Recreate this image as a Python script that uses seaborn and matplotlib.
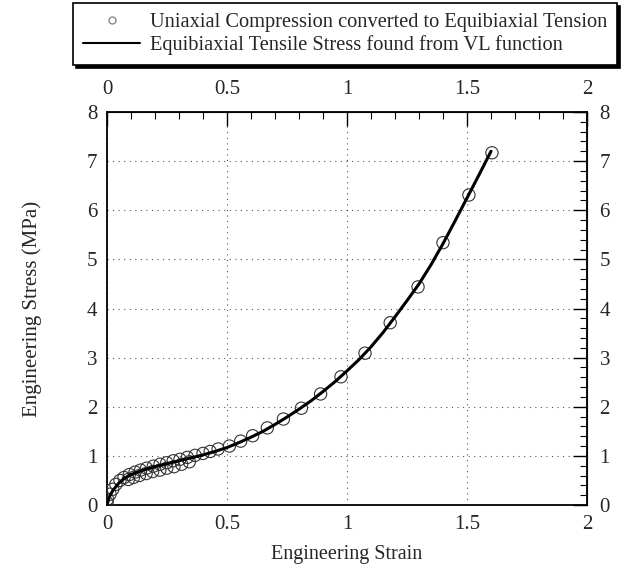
import numpy as np
import pandas as pd
import matplotlib
matplotlib.use("Agg")
import matplotlib.pyplot as plt
import seaborn as sns
from matplotlib.ticker import MultipleLocator, FuncFormatter
from matplotlib.lines import Line2D

# Experimental points (uniaxial compression converted to equibiaxial tension)
strain_pts = [0.0, 0.002, 0.0125, 0.024, 0.037, 0.054, 0.071, 0.093, 0.117, 0.14,
              0.165, 0.193, 0.221, 0.249, 0.276, 0.304, 0.335, 0.367, 0.40, 0.43,
              0.463, 0.51, 0.557, 0.607, 0.668, 0.735, 0.81, 0.89, 0.975, 1.075,
              1.18, 1.296, 1.40, 1.508, 1.604,
              0.089, 0.11, 0.135, 0.163, 0.19, 0.22, 0.249, 0.279, 0.311, 0.343]
stress_pts = [0.05, 0.12, 0.22, 0.32, 0.42, 0.50, 0.56, 0.62, 0.67, 0.71,
              0.75, 0.79, 0.83, 0.86, 0.90, 0.93, 0.97, 1.01, 1.05, 1.09,
              1.14, 1.20, 1.30, 1.41, 1.57, 1.75, 1.97, 2.26, 2.61, 3.09,
              3.71, 4.44, 5.34, 6.31, 7.17,
              0.52, 0.56, 0.60, 0.64, 0.68, 0.71, 0.75, 0.78, 0.83, 0.88]

# Equibiaxial tensile stress from VL function
strain_line = [0.0, 0.01, 0.025, 0.05, 0.075, 0.1, 0.15, 0.2, 0.25, 0.3, 0.35, 0.4,
               0.45, 0.5, 0.55, 0.6, 0.65, 0.7, 0.75, 0.8, 0.85, 0.9, 0.95, 1.0,
               1.05, 1.1, 1.15, 1.2, 1.25, 1.3, 1.35, 1.4, 1.45, 1.5, 1.55, 1.6]
stress_line = [0.0, 0.17, 0.30, 0.45, 0.55, 0.62, 0.71, 0.78, 0.84, 0.90, 0.96, 1.02,
               1.09, 1.17, 1.27, 1.38, 1.50, 1.64, 1.79, 1.95, 2.12, 2.31, 2.51, 2.73,
               2.96, 3.22, 3.51, 3.83, 4.16, 4.50, 4.89, 5.32, 5.78, 6.25, 6.72, 7.20]

x_ticks = [0, 0.5, 1, 1.5, 2]
y_ticks = [0, 1, 2, 3, 4, 5, 6, 7, 8]

sns.set_style("white")
plt.rcParams['font.family'] = ['Liberation Serif', 'DejaVu Serif']

fig = plt.figure(figsize=(6.23, 5.69), dpi=100)
ax = fig.add_axes([107 / 623, 64 / 569, 480 / 623, 393 / 569])

df_line = pd.DataFrame({"strain": strain_line, "stress": stress_line})
df_pts = pd.DataFrame({"strain": strain_pts, "stress": stress_pts})

sns.scatterplot(data=df_pts, x="strain", y="stress", ax=ax, marker="o",
                facecolor="none", edgecolor="#333333", s=78, linewidth=0.8, zorder=3)
sns.lineplot(data=df_line, x="strain", y="stress", ax=ax, color="black",
             linewidth=2.2, zorder=4, sort=False, estimator=None)

fmt = FuncFormatter(lambda v, p: f"{v:g}")
ax.set_xlim(0, 2)
ax.set_ylim(0, 8)
ax.set_xticks(x_ticks)
ax.set_yticks(y_ticks)
ax.xaxis.set_minor_locator(MultipleLocator(0.1))
ax.yaxis.set_minor_locator(MultipleLocator(0.2))
ax.xaxis.set_major_formatter(fmt)
ax.grid(True, which="major", linestyle=(0, (1, 4)), color="#555555", linewidth=0.8)
ax.tick_params(which="both", direction="in", top=True, right=True,
               labelsize=15, color="black")
ax.tick_params(axis="x", which="major", pad=7)
ax.tick_params(axis="y", which="major", pad=7)
ax.tick_params(which="major", length=10, width=1)
ax.tick_params(which="minor", length=5, width=0.8)
for s in ax.spines.values():
    s.set_color("black")
    s.set_linewidth(1.3)

secx = ax.secondary_xaxis("top")
secx.set_xticks(x_ticks)
secx.xaxis.set_major_formatter(fmt)
secx.tick_params(direction="in", length=0, labelsize=15, pad=9)
secy = ax.secondary_yaxis("right")
secy.set_yticks(y_ticks)
secy.tick_params(direction="in", length=0, labelsize=15, pad=9)

ax.set_xlabel("Engineering Strain", fontsize=14.5, labelpad=8)
ax.set_ylabel("Engineering Stress (MPa)", fontsize=15, labelpad=32)

handles = [Line2D([], [], marker="o", linestyle="none", markerfacecolor="none",
                  markeredgecolor="#888888", markersize=5),
           Line2D([], [], color="black", linewidth=1.5)]
labels = ["Uniaxial Compression converted to Equibiaxial Tension",
          "Equibiaxial Tensile Stress found from VL function"]
leg = fig.legend(handles, labels, loc="upper left",
                 bbox_to_anchor=(73 / 623, 1 - 3 / 569), borderaxespad=0,
                 fontsize=14.7, frameon=True, fancybox=False,
                 shadow={"color": "black", "alpha": 1},
                 handlelength=2.8, handletextpad=0.45, borderpad=0.5,
                 labelspacing=0.12, edgecolor="black")
leg.get_frame().set_linewidth(1.2)

fig.savefig("out.png", dpi=100)
